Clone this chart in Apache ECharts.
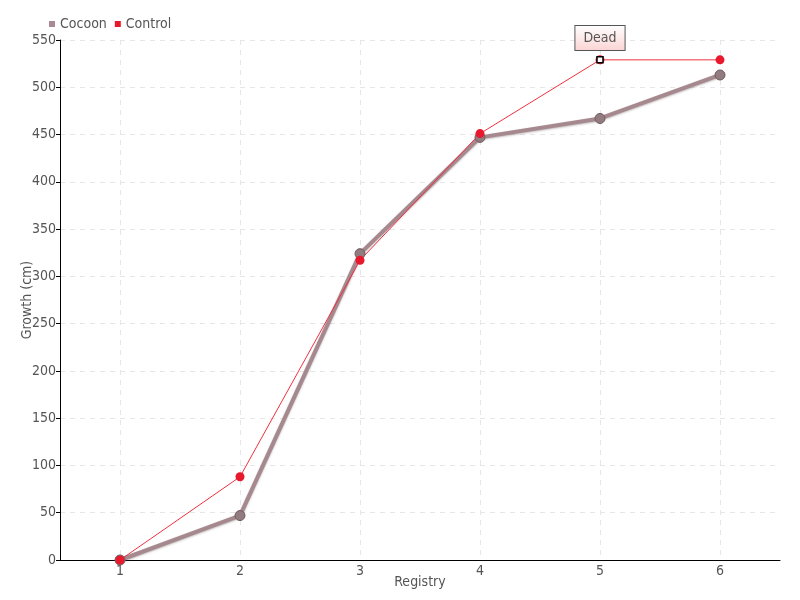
<!DOCTYPE html>
<html>
<head>
<meta charset="utf-8">
<script src="https://cdn.jsdelivr.net/npm/echarts@6/dist/echarts.min.js"></script>
<style>
  html, body { margin: 0; padding: 0; background: #fff; }
  #chart { width: 800px; height: 600px; }
</style>
</head>
<body>
<div id="chart"></div>
<script>
// data
var registry = ['1', '2', '3', '4', '5', '6']
var cocoon = [0, 47, 324, 447, 467, 513]
var control = [0, 88, 317, 451, 529, 529]
var deadPoint = ['5', 529]

var font = '"DejaVu Sans Condensed", "Liberation Sans Narrow", sans-serif'

var chart = echarts.init(document.getElementById('chart'))
chart.setOption({
  backgroundColor: '#fff',
  animation: false,
  textStyle: { fontFamily: font },
  legend: {
    left: 44,
    top: 12,
    itemWidth: 6,
    itemHeight: 6,
    itemGap: 8,
    icon: 'rect',
    itemStyle: { borderWidth: 0 },
    textStyle: { color: '#555', fontSize: 14, fontFamily: font },
    data: [
      { name: 'Cocoon', itemStyle: { color: '#a88a92' } },
      { name: 'Control' }
    ]
  },
  grid: { left: 60, right: 20, top: 40, bottom: 40, outerBoundsMode: 'none' },
  xAxis: {
    type: 'category',
    data: registry,
    name: 'Registry',
    nameLocation: 'middle',
    nameGap: 15,
    nameMoveOverlap: false,
    nameTextStyle: { color: '#555', fontSize: 14 },
    axisLine: { lineStyle: { color: '#000' } },
    axisTick: { show: false },
    axisLabel: { color: '#555', fontSize: 14, margin: 4 },
    splitLine: {
      show: true,
      alignWithLabel: true,
      lineStyle: { color: '#e6e6e6', type: [5, 5] }
    }
  },
  yAxis: {
    type: 'value',
    min: 0,
    max: 550,
    interval: 50,
    name: 'Growth (cm)',
    nameLocation: 'middle',
    nameGap: 26,
    nameMoveOverlap: false,
    nameTextStyle: { color: '#555', fontSize: 14 },
    axisLine: { show: true, lineStyle: { color: '#000' } },
    axisTick: { show: true, length: 4, lineStyle: { color: '#000' } },
    axisLabel: { color: '#555', fontSize: 14, margin: 4 },
    splitLine: { lineStyle: { color: '#e6e6e6', type: [5, 5] } }
  },
  series: [
    {
      name: 'Cocoon',
      type: 'line',
      data: cocoon,
      symbol: 'circle',
      symbolSize: 10,
      color: '#a5898f',
      lineStyle: {
        width: 4,
        color: '#a5898f',
        shadowColor: 'rgba(80,60,60,0.35)',
        shadowBlur: 2,
        shadowOffsetY: 1
      },
      itemStyle: { color: '#927c80', borderColor: '#6e5a5e', borderWidth: 1 }
    },
    {
      name: 'Control',
      type: 'line',
      data: control,
      symbol: 'circle',
      symbolSize: 9,
      color: '#e8192c',
      lineStyle: { width: 1, color: '#f0303f' },
      itemStyle: { color: '#e8192c' },
      markPoint: {
        symbol: 'rect',
        symbolSize: 6,
        itemStyle: { color: '#fff', borderColor: '#000', borderWidth: 1.5 },
        label: {
          show: true,
          position: 'top',
          distance: 6,
          formatter: 'Dead',
          color: '#555',
          fontSize: 14,
          fontFamily: font,
          padding: [5, 8, 5, 8],
          borderColor: '#555',
          borderWidth: 1,
          backgroundColor: {
            type: 'linear', x: 0, y: 0, x2: 0, y2: 1,
            colorStops: [{ offset: 0, color: '#fff' }, { offset: 1, color: '#fcd3d3' }]
          }
        },
        data: [{ coord: deadPoint }]
      }
    }
  ]
})
</script>
</body>
</html>
